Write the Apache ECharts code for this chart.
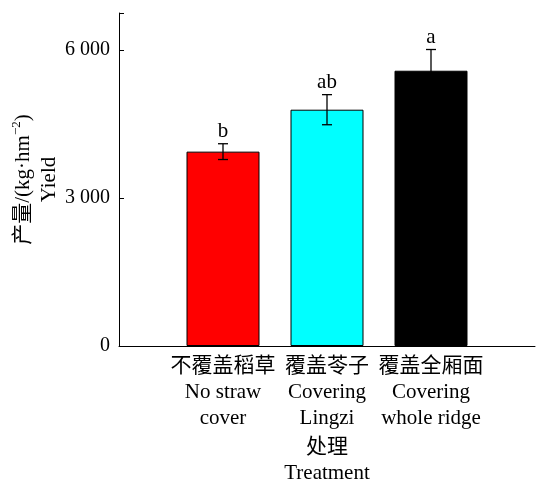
<!DOCTYPE html>
<html>
<head>
<meta charset="utf-8">
<script src="https://cdn.jsdelivr.net/npm/echarts@6/dist/echarts.min.js"></script>
<style>html,body{margin:0;padding:0;background:#fff;}#c{width:543px;height:480px;}</style>
</head>
<body>
<div id="c"></div>
<script>
const categories = ['不覆盖稻草\nNo straw\ncover', '覆盖苓子\nCovering\nLingzi', '覆盖全厢面\nCovering\nwhole ridge'];
const yields = [3940, 4790, 5580];
const errors = [160, 305, 430];
const letters = ['b', 'ab', 'a'];
const colors = ['#ff0000', '#00ffff', '#000000'];
const yTicks = [0, 3000, 6000];

const FONT = "'Liberation Serif', 'Noto Sans CJK SC', serif";
const FS = 21;

const axisCats = [''].concat(categories, ['']);
const barData = ['-'].concat(yields.map((v, i) => ({value: v, itemStyle: {color: colors[i]}})), ['-']);
const errData = yields.map((v, i) => [i + 1, v, errors[i]]);

const chart = echarts.init(document.getElementById('c'));
chart.setOption({
  animation: false,
  backgroundColor: '#fff',
  grid: {left: 119, right: 8, top: 13, bottom: 134, containLabel: false, outerBoundsMode: 'none'},
  xAxis: {
    type: 'category',
    data: axisCats,
    boundaryGap: false,
    axisLine: {lineStyle: {color: '#000', width: 1}},
    axisTick: {show: false},
    axisLabel: {interval: 0, color: '#000', fontFamily: FONT, fontSize: FS, lineHeight: 26, margin: 7, hideOverlap: false},
    name: '处理\nTreatment',
    nameLocation: 'middle',
    nameGap: 88,
    nameMoveOverlap: false,
    nameTextStyle: {color: '#000', fontFamily: FONT, fontSize: FS, lineHeight: 26}
  },
  yAxis: {
    type: 'value',
    min: 0,
    max: 6750,
    interval: 3000,
    axisLine: {show: true, lineStyle: {color: '#000', width: 1}},
    axisTick: {show: true, inside: true, length: 5, lineStyle: {color: '#000'}},
    splitLine: {show: false},
    axisLabel: {
      color: '#000', fontFamily: FONT, fontSize: 20, margin: 9,
      formatter: v => yTicks.indexOf(v) >= 0 ? String(v).replace(/\B(?=(\d{3})+(?!\d))/g, ' ') : ''
    },
    name: '{a|产量/(kg·hm}{s|−2}{a|)}\n{a|Yield}',
    nameLocation: 'middle',
    nameGap: 57,
    nameRotate: 90,
    nameMoveOverlap: false,
    nameTextStyle: {
      color: '#000', fontFamily: FONT, fontSize: FS, lineHeight: 26,
      rich: {
        a: {color: '#000', fontFamily: FONT, fontSize: FS, lineHeight: 26},
        s: {color: '#000', fontFamily: FONT, fontSize: 13, lineHeight: 26, verticalAlign: 'top', padding: [0, 0, 8, 0]}
      }
    }
  },
  series: [
    {
      type: 'bar',
      data: barData,
      barWidth: 73,
      itemStyle: {borderColor: '#000', borderWidth: 1}
    },
    {
      type: 'custom',
      z: 10,
      data: errData,
      renderItem: function (params, api) {
        const c = api.value(0), m = api.value(1), e = api.value(2);
        const x = api.coord([c, 0])[0];
        const yt = api.coord([c, m + e])[1];
        const yb = api.coord([c, m - e])[1];
        const hw = 5;
        const ls = {stroke: '#000', lineWidth: 1.3};
        return {
          type: 'group',
          children: [
            {type: 'line', shape: {x1: x, y1: yt, x2: x, y2: yb}, style: ls},
            {type: 'line', shape: {x1: x - hw, y1: yt, x2: x + hw, y2: yt}, style: ls},
            {type: 'line', shape: {x1: x - hw, y1: yb, x2: x + hw, y2: yb}, style: ls},
            {type: 'text', style: {text: letters[params.dataIndex], x: x, y: yt - 2, align: 'center', verticalAlign: 'bottom', fontFamily: FONT, fontSize: FS, fill: '#000'}}
          ]
        };
      }
    }
  ]
});
</script>
</body>
</html>
